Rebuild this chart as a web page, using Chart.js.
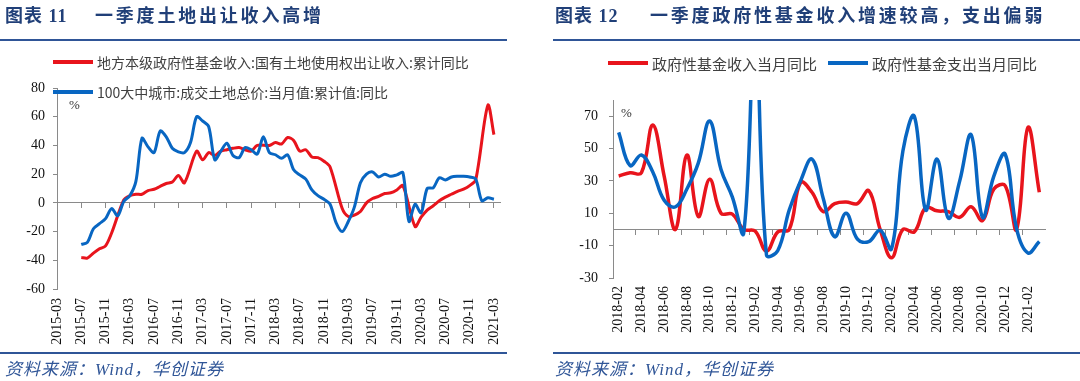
<!DOCTYPE html>
<html><head><meta charset="utf-8">
<script src="https://cdn.jsdelivr.net/npm/chart.js@4/dist/chart.umd.min.js"></script>
<style>
body{margin:0;width:1080px;height:381px;background:#fff;position:relative;overflow:hidden;font-family:"Noto Sans CJK SC",sans-serif;}
canvas{position:absolute;top:0;}
.title{position:absolute;top:6px;line-height:20px;font-family:"Liberation Serif","Noto Sans CJK SC",serif;font-weight:700;font-size:18px;color:#203f78;white-space:nowrap;}
.title .a{letter-spacing:1px;}
.title .b{letter-spacing:2.8px;position:absolute;top:0;}
.rule{position:absolute;height:2px;background:#2f5597;}
.src{position:absolute;top:360px;line-height:20px;font-family:"Liberation Serif","Noto Sans CJK SC",serif;font-style:italic;font-size:17px;letter-spacing:1px;color:#2f5597;white-space:nowrap;}
.leg{position:absolute;height:20px;display:flex;align-items:center;white-space:nowrap;color:#404040;font-family:"Noto Sans CJK SC",sans-serif;}
.leg .sw{display:inline-block;width:40px;height:4px;margin-right:4px;}
.pct{position:absolute;font-family:"Liberation Serif",serif;font-size:13px;color:#333;line-height:14px;}
</style>
</head>
<body>
<canvas id="c1" width="510" height="381" style="left:0;width:510px;height:381px"></canvas>
<canvas id="c2" width="540" height="381" style="left:540px;width:540px;height:381px"></canvas>

<div class="title" style="left:5px"><span class="a">图表 11</span><span class="b" style="left:90px">一季度土地出让收入高增</span></div>
<div class="rule" style="left:0;width:507px;top:39px"></div>
<div class="title" style="left:555px"><span class="a">图表 12</span><span class="b" style="left:95px">一季度政府性基金收入增速较高，支出偏弱</span></div>
<div class="rule" style="left:553px;width:527px;top:39px"></div>

<div class="rule" style="left:0;width:507px;top:352px"></div>
<div class="rule" style="left:553px;width:527px;top:352px"></div>
<div class="src" style="left:5px">资料来源：Wind，华创证券</div>
<div class="src" style="left:555px">资料来源：Wind，华创证券</div>

<div class="pct" style="left:69px;top:98px">%</div>
<div class="pct" style="left:621px;top:106px">%</div>

<script>
// ---------- Left chart data ----------
const leftMonths = ["2015-03","2015-04","2015-05","2015-06","2015-07","2015-08","2015-09","2015-10","2015-11","2015-12",
"2016-01","2016-02","2016-03","2016-04","2016-05","2016-06","2016-07","2016-08","2016-09","2016-10","2016-11","2016-12",
"2017-01","2017-02","2017-03","2017-04","2017-05","2017-06","2017-07","2017-08","2017-09","2017-10","2017-11","2017-12",
"2018-01","2018-02","2018-03","2018-04","2018-05","2018-06","2018-07","2018-08","2018-09","2018-10","2018-11","2018-12",
"2019-01","2019-02","2019-03","2019-04","2019-05","2019-06","2019-07","2019-08","2019-09","2019-10","2019-11","2019-12",
"2020-01","2020-02","2020-03","2020-04","2020-05","2020-06","2020-07","2020-08","2020-09","2020-10","2020-11","2020-12",
"2021-01","2021-02","2021-03","2021-04"];
const landRevenueYoY = [null,null,null,null,-38,-38.5,-35,-32,-30,-21,
null,2,5,6,6,8.5,9.5,11.5,13.5,14.5,19,14,
null,36,30,35,33,36,37,38,38.5,37,36,40,
null,40,42,41,45.5,43.5,36,37,32,31.5,29,25,
null,-4,-9.5,-8.5,-6,0,3,4.5,6.5,7,9,12,
null,-16.5,-10,-5,-2,1.5,4,6,8,9.5,12,16,
null,68,47.5,null];
const landSalesYoY = [null,null,null,null,-29,-27.5,-18,-14.5,-11,-4,
-9,1,5,15,45,39,35,50,46,38,35.5,35,
42,60,57,53,30,36,41.5,33,31.5,38.5,37,34,
46,35,33.5,31,33.5,23,19.5,16.5,9,5,2.5,-1,
-14,-20,-13,-3,14,20,21.5,18,20,18.5,19.5,21,
-13,-1,-7,10,10.5,17.5,16,18,18.5,18.5,18,16.5,
1.5,3.5,2.5,null];
const leftYTicks = [-60,-40,-20,0,20,40,60,80];
const leftNames = ["地方本级政府性基金收入:国有土地使用权出让收入:累计同比","100大中城市:成交土地总价:当月值:累计值:同比"];

// ---------- Right chart data ----------
const rightMonths = ["2018-02","2018-03","2018-04","2018-05","2018-06","2018-07","2018-08","2018-09","2018-10","2018-11","2018-12",
"2019-01","2019-02","2019-03","2019-04","2019-05","2019-06","2019-07","2019-08","2019-09","2019-10","2019-11","2019-12",
"2020-01","2020-02","2020-03","2020-04","2020-05","2020-06","2020-07","2020-08","2020-09","2020-10","2020-11","2020-12",
"2021-01","2021-02","2021-03"];
const fundRevenueYoY = [33,35,35,64.5,33,0,46,8,31,10,9.5,
0,-1,-13.5,-1.5,0,29,23,11,16,17,16,24,
0,-17.5,0,-1.5,13.5,11.5,11,7.5,14,5.5,25,27,
0,63,23];
const fundSpendingYoY = [60,39.5,46,35.5,18,14,25,41,67,37,20,
-2,130,-15.7,-13,12,30,43.5,19,-4.5,10,-6,-7.5,
-0.5,-12,48.5,70,12,43.5,7,30,58.5,7.5,33,46.5,
0.5,-14.5,-7.5];
const rightYTicks = [-30,-10,10,30,50,70];
const rightNames = ["政府性基金收入当月同比","政府性基金支出当月同比"];

// ---------- styling ----------
const AXIS = '#8a8a8a';
const RED = '#e8141c';
const BLUE = '#0866c2';
const TXT = '#111';
const tickFont = {family: 'Liberation Serif', size: 14};
const clear = 'rgba(0,0,0,0)';

function buildChart(canvasId, o) {
  return new Chart(document.getElementById(canvasId), {
    type: 'line',
    data: {
      labels: o.labels,
      datasets: [
        {label: o.names[0], data: o.s1, borderColor: RED, backgroundColor: RED, borderWidth: o.lw, pointRadius: 0, tension: o.tension, spanGaps: true, order: 1, fill: false},
        {label: o.names[1], data: o.s2, borderColor: BLUE, backgroundColor: BLUE, borderWidth: o.lw, pointRadius: 0, tension: o.tension, spanGaps: true, order: 0, fill: false}
      ]
    },
    options: {
      responsive: false, animation: false, devicePixelRatio: 1,
      layout: {padding: {top: o.padTop, right: o.padRight, left: 0, bottom: 0}},
      plugins: {legend: {display: false}, tooltip: {enabled: false}},
      scales: {
        x: {
          type: 'category', position: 'bottom', offset: o.offset,
          grid: {display: false, drawTicks: false}, border: {display: false},
          ticks: {autoSkip: false, minRotation: 90, maxRotation: 90, padding: o.xPad, font: tickFont, color: TXT,
            callback: function (v, i) { return i % o.every === 0 && i < o.lastIdx + 1 ? this.getLabelForValue(v) : ''; }},
          afterFit: s => { s.height = o.xHeight; s.paddingLeft = 0; s.paddingRight = 0; }
        },
        x0: {
          type: 'category', axis: 'x', position: {y: 0}, offset: o.offset,
          grid: {drawOnChartArea: false, drawTicks: true, tickLength: 5, offset: o.offset,
            color: ctx => (ctx.index % o.every === 0 ? AXIS : clear),
            tickColor: ctx => (ctx.index % o.every === 0 ? AXIS : clear)},
          border: {color: AXIS, width: 1},
          ticks: {display: false, autoSkip: false},
          afterFit: s => { s.paddingLeft = 0; s.paddingRight = 0; }
        },
        y: {
          min: o.yMin, max: o.yMax,
          afterBuildTicks: s => { s.ticks = o.yTicks.map(v => ({value: v})); },
          grid: {drawOnChartArea: false, drawTicks: true, tickLength: 4, color: AXIS},
          border: {color: AXIS, width: 1},
          ticks: {padding: o.yPad, font: tickFont, color: TXT},
          afterFit: s => { s.width = o.yWidth; s.paddingTop = 0; s.paddingBottom = 0; }
        }
      }
    }
  });
}

const c1 = buildChart('c1', {labels: leftMonths, s1: landRevenueYoY, s2: landSalesYoY, names: leftNames,
  lw: 3, tension: 0.3, padTop: 88, padRight: 10, offset: false, xPad: 9, xHeight: 92, every: 4, lastIdx: 72,
  yMin: -60, yMax: 80, yTicks: leftYTicks, yPad: 8, yWidth: 57});

const c2 = buildChart('c2', {labels: rightMonths, s1: fundRevenueYoY, s2: fundSpendingYoY, names: rightNames,
  lw: 3.5, tension: 0.4, padTop: 100, padRight: 35, offset: true, xPad: 8, xHeight: 103, every: 2, lastIdx: 37,
  yMin: -30, yMax: 80, yTicks: rightYTicks, yPad: 11, yWidth: 73});

// HTML legends built from the datasets
function htmlLegend(chart, spots, size) {
  chart.data.datasets.forEach((ds, k) => {
    const d = document.createElement('div');
    d.className = 'leg';
    d.style.left = spots[k][0] + 'px';
    d.style.top = spots[k][1] + 'px';
    d.style.fontSize = size + 'px';
    const sw = document.createElement('span');
    sw.className = 'sw';
    sw.style.background = ds.borderColor;
    const tx = document.createElement('span');
    tx.textContent = ds.label;
    d.appendChild(sw); d.appendChild(tx);
    document.body.appendChild(d);
  });
}
htmlLegend(c1, [[53, 52], [53, 82]], 14);
htmlLegend(c2, [[608, 53], [828, 53]], 15);
</script>
</body></html>
